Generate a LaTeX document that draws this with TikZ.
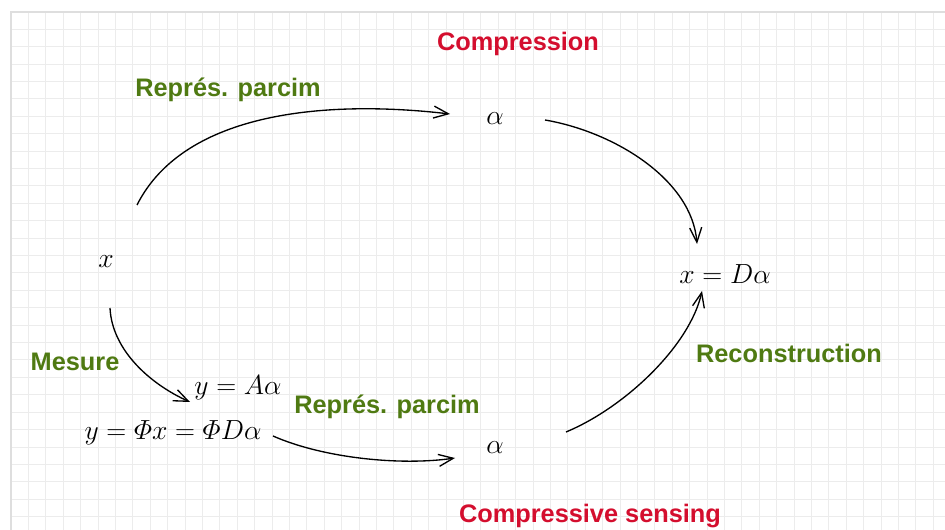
\documentclass[tikz,border=0pt]{standalone}
\usepackage{amsmath}
\usepackage{fontspec}
\newfontfamily\labfont{Liberation Sans}
\usetikzlibrary{arrows.meta}
\definecolor{redlab}{RGB}{212,14,46}
\definecolor{greenlab}{RGB}{79,122,18}
\definecolor{gridc}{RGB}{236,236,236}
\definecolor{gridb}{RGB}{222,222,222}
\tikzset{
  redtext/.style={anchor=base,inner sep=0pt,text=redlab,font=\labfont\bfseries\fontsize{19}{22}\selectfont},
  greentext/.style={anchor=base,inner sep=0pt,text=greenlab,font=\labfont\bfseries\fontsize{19}{22}\selectfont},
  mathtext/.style={anchor=base,inner sep=0pt,font=\fontsize{20.74}{24}\selectfont},
  conn/.style={line width=1pt,-{Straight Barb[length=11pt,width=9pt,line width=1pt]}}
}
\begin{document}
\begin{tikzpicture}[x=0.75pt,y=-0.75pt]
\useasboundingbox (0,0) rectangle (945,530);
\fill[white] (0,0) rectangle (945,530);
% grid
\foreach \i in {0,...,53} {
  \draw[gridc,line width=0.75pt] (11+17.4*\i,12) -- (11+17.4*\i,530);
}
\foreach \j in {0,...,29} {
  \draw[gridc,line width=0.75pt] (11,12+17.4*\j) -- (945,12+17.4*\j);
}
\draw[gridb,line width=0.9pt] (11,530) -- (11,12) -- (945,12);

% labels
\node[redtext] (comp) at (518,51) {Compression};
\node[greentext] (rep1) at (228,97) {Représ. parcim};
\node[greentext] (recon) at (789,363) {Reconstruction};
\node[greentext] (mes) at (75,371) {Mesure};
\node[greentext] (rep2) at (387,414) {Représ. parcim};
\node[redtext] (cs) at (590,522) {Compressive sensing};

% math nodes
\node[mathtext] (a1) at (495,125) {$\alpha$};
\node[mathtext] (x) at (106,268) {$x$};
\node[mathtext] (xd) at (725,284) {$x = D\alpha$};
\node[mathtext] (ya) at (238,395) {$y = A\alpha$};
\node[mathtext] (yphi) at (173,440) {$y = \varPhi x = \varPhi D\alpha$};
\node[mathtext] (a2) at (495,453) {$\alpha$};

% connectors
\draw[conn] ([shift={(31,-63)}]x.base) .. controls +(48,-95) and +(-120,-14) .. ([shift={(-45,-11)}]a1.base);
\draw[conn] ([shift={(50,-5)}]a1.base) .. controls +(70,12) and +(-5,-64) .. ([shift={(-28,-40)}]xd.base);
\draw[conn] ([shift={(4,40)}]x.base) .. controls +(2,42) and +(-40,-18) .. ([shift={(-48,7)}]ya.base);
\draw[conn] ([shift={(100,-4)}]yphi.base) .. controls +(50,22) and +(-55,8) .. ([shift={(-40,5)}]a2.base);
\draw[conn] ([shift={(71,-21)}]a2.base) .. controls +(60,-25) and +(-12,54) .. ([shift={(-23,7)}]xd.base);
\end{tikzpicture}
\end{document}
